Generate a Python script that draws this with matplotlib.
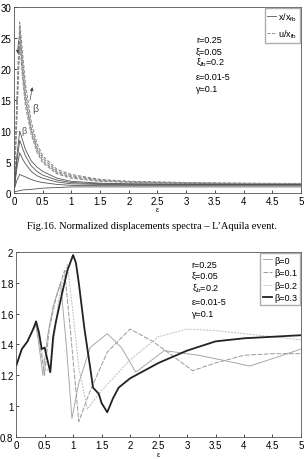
import numpy as np
import matplotlib
matplotlib.use('Agg')
import matplotlib.pyplot as plt

# top chart: normalized displacement spectra (x/x_fb solid, u/x_fb dashed)
EPS_TOP = [0.01, 0.05, 0.1, 0.15, 0.2, 0.3, 0.4, 0.5, 0.75, 1.0, 1.5, 2.0, 3.0, 4.0, 5.0]
U_CURVES = [
    [3, 15, 27.5, 22.5, 17.5, 11.5, 8, 6, 3.8, 3.0, 2.2, 1.9, 1.7, 1.6, 1.55],
    [3, 14, 26.5, 21, 16, 10.5, 7.4, 5.6, 3.5, 2.8, 2.1, 1.85, 1.65, 1.55, 1.5],
    [3, 13, 25.5, 19.5, 15, 10, 7, 5.2, 3.3, 2.6, 2.0, 1.8, 1.6, 1.55, 1.5],
    [3, 12, 24.5, 18.5, 14, 9.5, 6.6, 4.9, 3.1, 2.4, 1.9, 1.75, 1.6, 1.5, 1.45],
]
X_CURVES = [
    [1, 6, 10, 8.5, 7, 5.2, 4.2, 3.5, 2.4, 1.9, 1.6, 1.5, 1.45, 1.4, 1.4],
    [1, 5, 8.5, 7.2, 6, 4.4, 3.5, 2.9, 2.1, 1.7, 1.5, 1.45, 1.4, 1.4, 1.4],
    [1, 4, 6.5, 5.5, 4.7, 3.5, 2.8, 2.4, 1.8, 1.5, 1.4, 1.35, 1.35, 1.35, 1.35],
    [0.8, 2, 3, 2.8, 2.6, 2.2, 1.9, 1.7, 1.4, 1.25, 1.2, 1.2, 1.2, 1.2, 1.2],
    [0.2, 0.3, 0.4, 0.5, 0.55, 0.6, 0.7, 0.8, 0.9, 1.0, 1.0, 1.0, 1.0, 1.0, 1.0],
]

# bottom chart: curves for several beta
BETAS = ['0', '0.1', '0.2', '0.3']
EPS_B0 = [0, 0.1, 0.2, 0.3, 0.35, 0.4, 0.47, 0.55, 0.65, 0.78, 0.88, 0.98, 1.1, 1.3, 1.6, 1.85, 2.1, 2.6, 3.2, 3.6, 4.1, 4.6, 5.0]
B0 = [1.26, 1.37, 1.42, 1.5, 1.52, 1.4, 1.2, 1.45, 1.65, 1.8, 1.4, 0.92, 1.15, 1.38, 1.47, 1.38, 1.22, 1.36, 1.33, 1.3, 1.26, 1.32, 1.37]
EPS_B1 = [0, 0.1, 0.2, 0.3, 0.35, 0.4, 0.5, 0.58, 0.7, 0.85, 0.95, 1.1, 1.3, 1.6, 2.0, 2.4, 3.1, 3.5, 4.0, 4.5, 5.0]
B1 = [1.26, 1.37, 1.42, 1.5, 1.53, 1.45, 1.2, 1.5, 1.7, 1.88, 1.5, 0.9, 1.1, 1.35, 1.5, 1.42, 1.23, 1.28, 1.33, 1.34, 1.34]
EPS_B2 = [0, 0.1, 0.2, 0.3, 0.35, 0.4, 0.5, 0.6, 0.75, 0.9, 1.0, 1.1, 1.25, 1.5, 2.0, 2.5, 3.0, 3.5, 4.0, 4.5, 5.0]
B2 = [1.26, 1.37, 1.42, 1.5, 1.54, 1.46, 1.25, 1.22, 1.7, 1.92, 1.6, 1.25, 0.98, 1.1, 1.3, 1.45, 1.5, 1.49, 1.47, 1.45, 1.43]
EPS_B3 = [0, 0.1, 0.2, 0.3, 0.35, 0.4, 0.45, 0.5, 0.55, 0.6, 0.65, 0.7, 0.8, 0.9, 1.0, 1.05, 1.1, 1.2, 1.3, 1.35, 1.45, 1.5, 1.6, 1.7, 1.8, 2.0, 2.5, 3.0, 3.5, 4.0, 4.5, 5.0]
B3 = [1.26, 1.37, 1.42, 1.5, 1.55, 1.48, 1.37, 1.38, 1.3, 1.22, 1.45, 1.55, 1.72, 1.88, 1.98, 1.93, 1.8, 1.5, 1.25, 1.12, 1.08, 1.02, 0.96, 1.05, 1.12, 1.18, 1.28, 1.36, 1.42, 1.44, 1.45, 1.46]

XTICKS = ['0', '0.5', '1', '1.5', '2', '2.5', '3', '3.5', '4', '4.5', '5']
PARAMS_TOP = ['r=0.25', 'ξ=0.05', r'$ξ_{fb}$=0.2', 'ε=0.01-5', 'γ=0.1']
PARAMS_BOT = ['r=0.25', 'ξ=0.05', r'$ξ_b$=0.2', 'ε=0.01-5', 'γ=0.1']

plt.rcParams['font.family'] = ['Liberation Sans', 'DejaVu Sans']
plt.rcParams['font.size'] = 7
plt.rcParams['mathtext.default'] = 'regular'

fig = plt.figure(figsize=(3.04, 4.60), dpi=100)

# ---- top chart ----
ax1 = fig.add_axes([0.046, 0.578, 0.944, 0.405])
for c in U_CURVES:
    ax1.plot(EPS_TOP, c, color='#8a8a8a', lw=0.8, ls=(0, (3, 1.5)))
for c in X_CURVES:
    ax1.plot(EPS_TOP, c, color='#555555', lw=0.6)
l1, = ax1.plot([], [], color='#555555', lw=0.6, label=r'x/x$_{fb}$')
l2, = ax1.plot([], [], color='#888888', lw=0.7, ls=(0, (3, 1.5)), label=r'u/x$_{fb}$')
ax1.legend(handles=[l1, l2], loc='upper right', fontsize=6.5, handlelength=1.0,
           frameon=True, fancybox=False, edgecolor='#999999', borderpad=0.3,
           labelspacing=0.5, handletextpad=0.2, borderaxespad=0.1)
ax1.annotate('', xy=(0.33, 17.5), xytext=(0.27, 14.5),
             arrowprops=dict(arrowstyle='-|>', color='#444444', lw=0.5, mutation_scale=5))
ax1.text(0.31, 13.2, 'β', fontsize=7.5, color='#555555')
ax1.text(0.13, 9.7, 'β', fontsize=6.5, color='#555555')
ax1.annotate('', xy=(0.06, 22), xytext=(0.08, 25),
             arrowprops=dict(arrowstyle='-|>', color='#444444', lw=0.5, mutation_scale=5))
for t, yv in zip(PARAMS_TOP, [24.8, 22.9, 21.2, 18.7, 16.8]):
    ax1.text(3.17, yv, t, fontsize=6.5, va='center')
ax1.set_xlim(0, 5)
ax1.set_ylim(0, 30)
ax1.set_xticks(np.arange(0, 5.01, 0.5))
ax1.set_xticklabels(XTICKS)
ax1.set_yticks(np.arange(0, 31, 5))
ax1.set_xlabel('ε', fontsize=5, labelpad=0)
ax1.tick_params(direction='in', length=2, width=0.5, pad=2)
for s in ax1.spines.values():
    s.set_linewidth(0.6)
    s.set_color('#555555')

fig.text(0.5, 0.507, 'Fig.16. Normalized displacements spectra \u2013 L\u2019Aquila event.',
         ha='center', va='center', fontsize=7.5, family=['Liberation Serif', 'DejaVu Serif'])

# ---- bottom chart ----
ax2 = fig.add_axes([0.053, 0.048, 0.937, 0.402])
ax2.plot(EPS_B0, B0, color='#a8a8a8', lw=0.7, label='β=' + BETAS[0])
ax2.plot(EPS_B1, B1, color='#9a9a9a', lw=0.7, ls=(0, (5, 1.5)), label='β=' + BETAS[1])
ax2.plot(EPS_B2, B2, color='#bdbdbd', lw=0.7, ls=(0, (2, 1.2)), label='β=' + BETAS[2])
ax2.plot(EPS_B3, B3, color='#222222', lw=1.3, label='β=' + BETAS[3])
ax2.legend(loc='upper right', fontsize=6.5, handlelength=1.0, frameon=True, fancybox=False,
           edgecolor='#999999', borderpad=0.3, labelspacing=0.4, handletextpad=0.3,
           borderaxespad=0.1)
for t, yv in zip(PARAMS_BOT, [1.92, 1.85, 1.77, 1.68, 1.60]):
    ax2.text(3.08, yv, t, fontsize=6.5, va='center')
ax2.set_xlim(0, 5)
ax2.set_ylim(0.8, 2.0)
ax2.set_xticks(np.arange(0, 5.01, 0.5))
ax2.set_xticklabels(XTICKS)
ax2.set_yticks(np.arange(0.8, 2.01, 0.2))
ax2.set_yticklabels(['0.8', '1', '1.2', '1.4', '1.6', '1.8', '2'])
ax2.set_xlabel('ε', fontsize=5, labelpad=1)
ax2.tick_params(direction='in', length=2, width=0.5, pad=2)
for s in ax2.spines.values():
    s.set_linewidth(0.6)
    s.set_color('#555555')

plt.savefig('out.png', dpi=100)
